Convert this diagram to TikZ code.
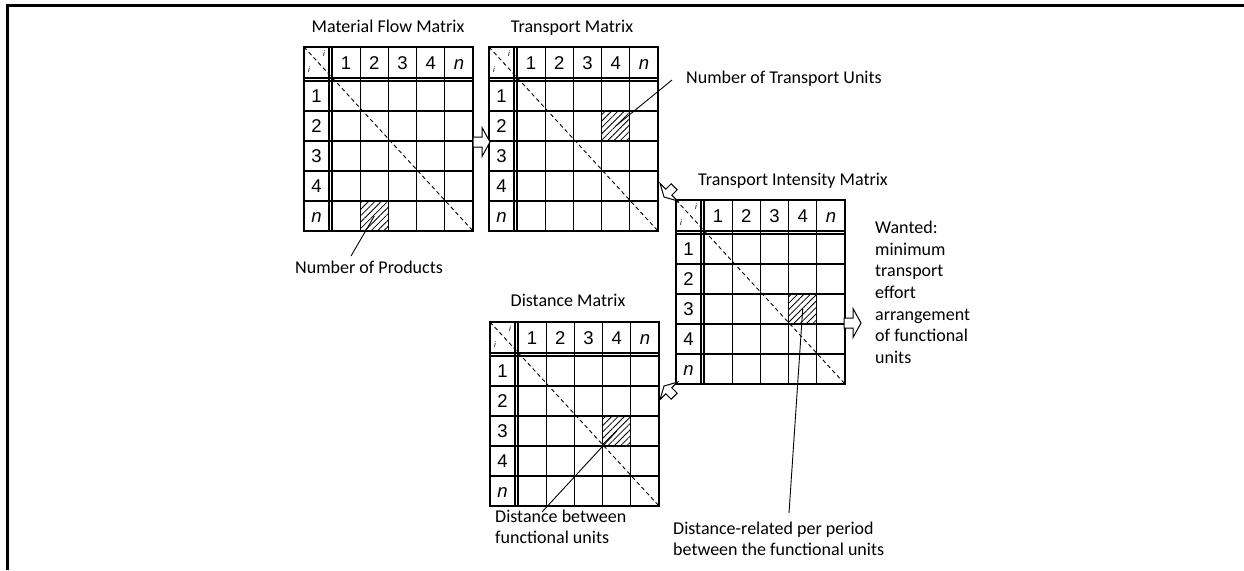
\documentclass[tikz,border=0pt]{standalone}
\usepackage{fontspec}
\setmainfont{Carlito}
\newfontfamily\numfont{Liberation Sans}
\usepackage{tikz}
\usetikzlibrary{patterns.meta,calc}

\tikzset{
	gridline/.style={line width=1.1pt},
	diagline/.style={line width=0.9pt, dash pattern=on 4pt off 3pt},
	hatchcell/.style={pattern={Lines[angle=45,distance=4.5pt,line width=0.8pt]}},
	leader/.style={line width=0.9pt},
	numlabel/.style={font=\numfont\fontsize{18.5}{18.5}\selectfont, inner sep=0pt, anchor=base},
	idxlabel/.style={font=\numfont\fontsize{8}{8}\selectfont\itshape, inner sep=0pt},
	caption/.style={font=\fontsize{18}{21}\selectfont, inner sep=0pt, align=left},
	pics/hollowarrow/.style={code={
		\draw[line width=1pt, fill=white, line join=miter]
			(-17,-5) -- (-8,-5) -- (-8,-14.5) -- (0,0) -- (-8,14.5) -- (-8,5) -- (-17,5) -- cycle;
	}}
}

% one matrix: #1 name, #2 x, #3 y, #4 hatched row, #5 hatched column
\newcommand{\flowmatrix}[5]{%
	\begin{scope}[shift={(#2,#3)}]
		\fill[hatchcell] ({28+28.2*(#5-1)},{34+30*(#4-1)}) rectangle ({28+28.2*#5},{34+30*#4});
		\coordinate (#1-h) at ({28+28.2*(#5-0.5)},{34+30*(#4-0.5)});
		\draw[gridline] (0,0) rectangle (169,184);
		\draw[gridline] (25,0) -- (25,184) (28,0) -- (28,184);
		\draw[gridline] (0,31) -- (169,31) (0,34) -- (169,34);
		\foreach \k in {1,...,4} {
			\draw[gridline] ({28+28.2*\k},0) -- ({28+28.2*\k},184);
			\draw[gridline] (0,{34+30*\k}) -- (169,{34+30*\k});
		}
		\foreach \t [count=\k] in {1,2,3,4,\textit{n}} {
			\node[numlabel] at ({28+28.2*(\k-0.5)},22.2) {\t};
			\node[numlabel] at (12.5,{34+30*(\k-0.5)+6.6}) {\t};
		}
		\draw[diagline] (0,0) -- (169,184);
		\node[idxlabel] at (20,7) {i};
		\node[idxlabel] at (5,23) {i};
	\end{scope}}

\begin{document}
\begin{tikzpicture}[x=1pt,y=-1pt]
	\useasboundingbox (0,0) rectangle (1244,570);
	% frame
	\draw[line width=3pt] (7,570) -- (7,5) -- (1244,5);
	
	% matrices
	\flowmatrix{mf}{304}{47}{5}{2}
	\flowmatrix{tm}{489}{47}{2}{4}
	\flowmatrix{ti}{676}{200}{3}{4}
	\flowmatrix{dm}{490}{322}{3}{4}
	
	% titles
	\node[caption, anchor=base] (mf-title) at (388,32) {Material Flow Matrix};
	\node[caption, anchor=base] (tm-title) at (572,32) {Transport Matrix};
	\node[caption, anchor=base west] (ti-title) at (698,185) {Transport Intensity Matrix};
	\node[caption, anchor=base] (dm-title) at (568,306) {Distance Matrix};
	
	% arrows
	\pic at (490,142) {hollowarrow};
	\pic[rotate=225, scale=0.85] at (664,197) {hollowarrow};
	\pic[rotate=135, scale=0.85] at (664,386) {hollowarrow};
	\pic at (861,323) {hollowarrow};
	
	% labels
	\node[caption, anchor=base] (prod) at (369,273) {Number of Products};
	\node[caption, anchor=base west] (units) at (686,83) {Number of Transport Units};
	\node[caption, anchor=north west] (dist) at (495,510) {Distance between\\functional units};
	\node[caption, anchor=north west] (rel) at (673,522) {Distance-related per period\\between the functional units};
	\node[caption, anchor=north west, font=\fontsize{18}{21.6}\selectfont] (wanted) at (875,221) {Wanted:\\minimum\\transport\\effort\\arrangement\\of functional\\units};
	
	% leaders
	\coordinate (mf-end) at (351,256);
	\coordinate (tm-end) at (672,80);
	\coordinate (dm-end) at (542,512);
	\coordinate (ti-end) at (789,513);
	\draw[leader] (mf-h) -- (mf-end);
	\draw[leader] (tm-h) -- (tm-end);
	\draw[leader] (dm-h) -- (dm-end);
	\draw[leader] (ti-h) -- (ti-end);
\end{tikzpicture}
\end{document}
